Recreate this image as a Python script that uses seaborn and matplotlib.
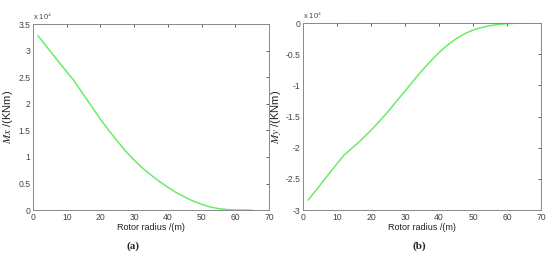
import matplotlib
matplotlib.use("Agg")
import matplotlib.pyplot as plt
import numpy as np
import pandas as pd
import seaborn as sns

# rotor radius stations (m)
radius = [1.5, 5, 8, 12, 16, 20, 22.5, 25, 27.5, 30, 32.5, 35, 37.5, 40, 42.5,
          45, 47.5, 50, 52.5, 55, 57.5, 60, 62.5, 65]
# moments, in units of 1e4 KNm
mx = [3.28, 3.00, 2.76, 2.45, 2.08, 1.71, 1.50, 1.30, 1.11, 0.94, 0.79, 0.66, 0.54, 0.43, 0.33,
      0.245, 0.17, 0.11, 0.06, 0.028, 0.01, 0.002, 0.0003, 0.0]
my = [-2.84, -2.60, -2.39, -2.12, -1.93, -1.72, -1.57, -1.42, -1.25, -1.09, -0.92, -0.76, -0.61, -0.47, -0.35,
      -0.25, -0.17, -0.11, -0.07, -0.04, -0.02, -0.008, -0.002, 0.0]

x_ticks = [0, 10, 20, 30, 40, 50, 60, 70]
mx_ticks = [0, 0.5, 1, 1.5, 2, 2.5, 3, 3.5]
my_ticks = [-3, -2.5, -2, -1.5, -1, -0.5, 0]

sns.set_style("white")
plt.rcParams["font.family"] = ["Liberation Sans", "DejaVu Sans"]
plt.rcParams["mathtext.fontset"] = "stix"

df = pd.DataFrame({"r": radius, "mx": mx, "my": my})

fig = plt.figure(figsize=(5.5, 2.6), dpi=100)
ax1 = fig.add_axes([0.06, 0.192, 0.429, 0.715])
ax2 = fig.add_axes([0.551, 0.192, 0.433, 0.719])

def style(ax, yt, ylabel):
    ax.set_xlim(0, 70)
    ax.set_xticks(x_ticks)
    ax.set_yticks(yt)
    ax.set_ylim(yt[0], yt[-1])
    ax.set_yticklabels([f"{v:g}" for v in yt])
    ax.tick_params(direction="in", length=2.5, width=0.6, labelsize=6.2,
                   colors="#444444", top=True, right=True, pad=2)
    for s in ax.spines.values():
        s.set_color("#888888")
        s.set_linewidth(0.7)
    ax.set_xlabel("Rotor radius /(m)", fontsize=6.5, labelpad=1, color="#222222")
    ax.set_ylabel(ylabel, fontsize=8, labelpad=2, color="#222222")
    ax.text(0.0, 1.01, r"x 10$^4$", transform=ax.transAxes, fontsize=5.5,
            color="#444444", ha="left", va="bottom")

sns.lineplot(data=df, x="r", y="mx", ax=ax1, color="#66ee66", linewidth=1.1)
sns.lineplot(data=df, x="r", y="my", ax=ax2, color="#66ee66", linewidth=1.1)

style(ax1, mx_ticks, r"$Mx$ /(KNm)")
style(ax2, my_ticks, r"$My$ /(KNm)")

fig.text(0.242, 0.045, "(a)", fontsize=8, fontweight="bold", family="Liberation Serif", ha="center")
fig.text(0.762, 0.045, "(b)", fontsize=8, fontweight="bold", family="Liberation Serif", ha="center")

fig.savefig("out.png", dpi=100)
